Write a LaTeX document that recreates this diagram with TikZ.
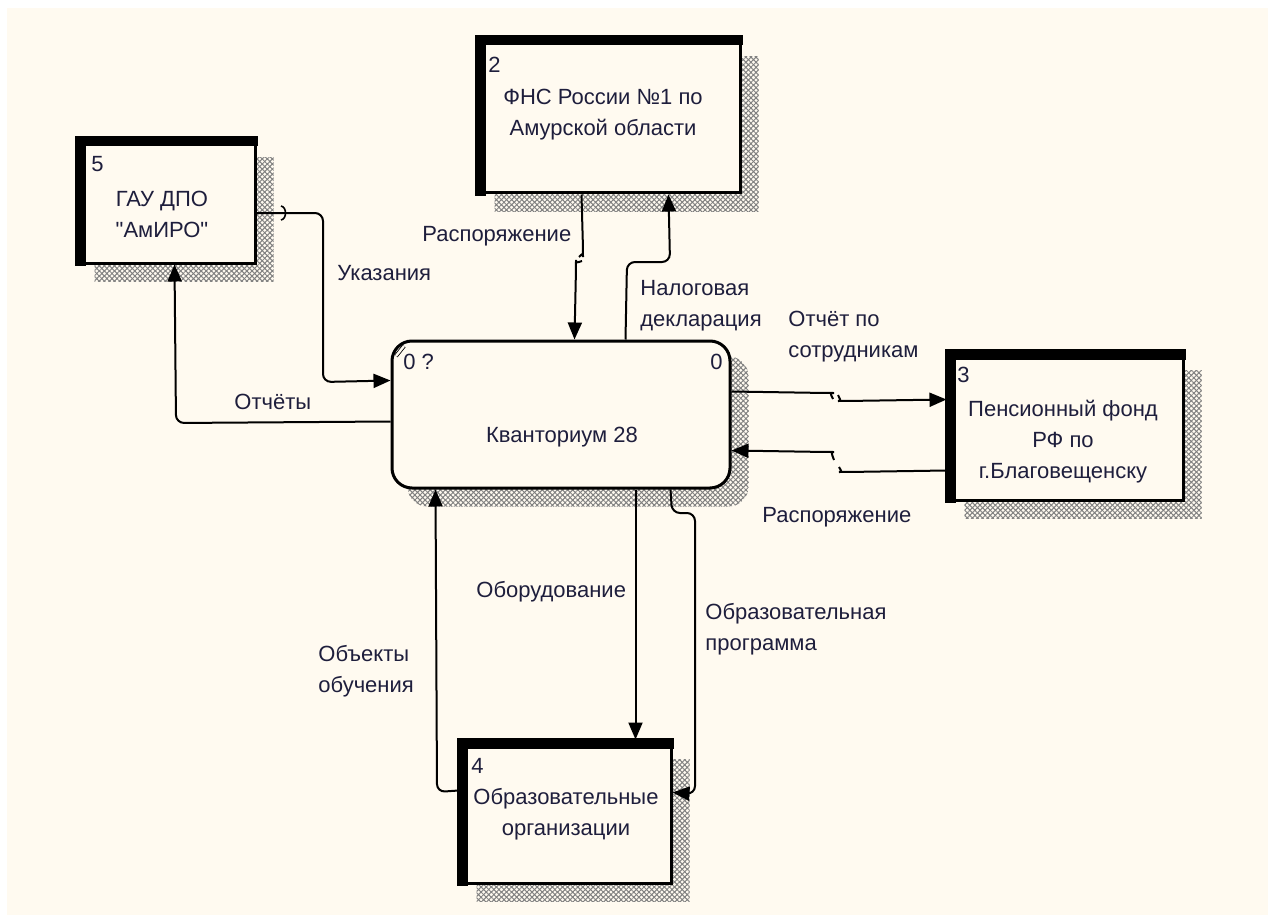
\documentclass[tikz,border=0pt]{standalone}
\usepackage{fontspec}
\setmainfont{Liberation Sans}
\newfontfamily\rawsans{Liberation Sans}
\usetikzlibrary{arrows.meta,calc,backgrounds,patterns.meta}
\definecolor{paper}{HTML}{FFFAF0}
\definecolor{ink}{HTML}{000000}
\definecolor{textink}{HTML}{1E1E3C}
\tikzset{
  entity/.style   = {draw=ink, line width=1.5pt, fill=paper, inner sep=0pt},
  kvant/.style    = {draw=ink, line width=1.5pt, fill=paper, rounded corners=10pt, inner sep=0pt},
  hatch/.style    = {preaction={fill, pattern={Lines[angle=45,distance=1.8pt,line width=0.5pt]}, pattern color=gray},
                     pattern={Lines[angle=-45,distance=1.8pt,line width=0.5pt]}, pattern color=gray},
  flow/.style     = {-{Triangle[length=8.5pt,width=7pt]}, draw=ink, line width=1pt, rounded corners=4pt},
  boxtext/.style  = {text=textink, align=center, anchor=base, inner sep=0pt,
                     font=\fontsize{11}{15.5}\selectfont},
  boxnum/.style   = {text=textink, anchor=base west, inner sep=0pt, font=\fontsize{11}{13}\selectfont},
  flowlabel/.style= {text=textink, align=left, anchor=base west, inner sep=0pt,
                     font=\fontsize{11}{15.5}\selectfont},
}
\begin{document}
\begin{tikzpicture}[x=0.5pt, y=-0.5pt]
  \useasboundingbox (0,0) rectangle (1275,915);

  % boxes
  \node[entity, minimum width=88.5pt, minimum height=62pt] (b5) at (166.5,201) {};
  \node[entity, minimum width=131pt, minimum height=77.5pt] (b2) at (609,115.5) {};
  \node[entity, minimum width=117.5pt, minimum height=74pt] (b3) at (1065.5,426) {};
  \node[entity, minimum width=105.5pt, minimum height=71pt] (b4) at (565.5,812) {};
  \node[kvant, minimum width=169pt, minimum height=73.5pt] (k28) at (561,414.5) {};
  \foreach \b in {b5,b2,b3,b4}{
    \fill[ink] ($(\b.north west)+(-1.5,-1.5)$) rectangle ($(\b.north east)+(1.5,9)$);
    \fill[ink] ($(\b.north west)+(-1.5,-1.5)$) rectangle ($(\b.south west)+(9,1.5)$);
  }
  \draw[double=paper, line width=0.4pt, double distance=1.2pt] (396,356) -- (404,346);

  % last line of each text sits on the given base
  \node[boxtext] (b5t) at (162,237) {ГАУ ДПО\\{\rawsans\char34}АмИРО{\rawsans\char34}};
  \node[boxtext] (b2t) at (603,135) {ФНС России №1 по\\Амурской области};
  \node[boxtext] (b3t) at (1063,478) {Пенсионный фонд\\РФ по\\г.Благовещенску};
  \node[boxtext] (b4t) at (566,835) {Образовательные\\организации};
  \node[boxtext] (k28t) at (562,442) {Кванториум 28};

  \node[boxnum] (b5n) at (91,171) {5};
  \node[boxnum] (b2n) at (488,73) {2};
  \node[boxnum] (b3n) at (957,382) {3};
  \node[boxnum] (b4n) at (471,773) {4};
  \node[boxnum] (k28n) at (403,369) {0 ?};
  \node[boxnum] (k28m) at (710,369) {0};

  % arrows
  \draw[flow] ($(b5.east)+(0,12)$) -- (323,213) -- (323,382) -- ($(k28.north west)+(0,41)$);
  \draw[ink, line width=0.8pt] (281,206) .. controls (287,207) and (287,219) .. (281,220);
  \draw[flow] ($(k28.north west)+(0,82)$) -- (176,423) -- ($(b5.south west)+(98,0)$);
  \draw[flow] ($(b2.south west)+(105,0)$) -- (583,249) .. controls (583,253) .. (579,257)
              (582,261) .. controls (576,263) .. (576,268) -- ($(k28.north west)+(184,0)$);
  \draw[flow] ($(k28.north west)+(235,0)$) -- (627,262) -- (670,262) -- ($(b2.south west)+(192,0)$);
  \draw[flow] ($(k28.north east)+(0,52)$) -- (826,393) .. controls (830,393) .. (833,399)
              (838,395) .. controls (841,401) .. (846,401) -- ($(b3.north west)+(0,49)$);
  \draw[flow] ($(b3.north west)+(0,120)$) -- (847,472) .. controls (842,472) .. (839,467)
              (834,460) .. controls (831,452) .. (826,452) -- ($(k28.north east)+(0,111)$);
  \draw[flow] ($(k28.south west)+(245,0)$) -- ($(b4.north west)+(177,0)$);
  \draw[flow] ($(k28.south west)+(280,0)$) -- (672,513) -- (695,513) -- (695,794) -- ($(b4.north east)+(0,53)$);
  \draw[flow] ($(b4.north west)+(0,51)$) -- (437,792) -- ($(k28.south west)+(45,0)$);

  \node[flowlabel] (l1) at (422,242) {Распоряжение};
  \node[flowlabel] (l2) at (337,280) {Указания};
  \node[flowlabel] (l3) at (234,409) {Отчёты};
  \node[flowlabel] (l4) at (640,326) {Налоговая\\декларация};
  \node[flowlabel] (l5) at (788,357) {Отчёт по\\сотрудникам};
  \node[flowlabel] (l6) at (762,522) {Распоряжение};
  \node[flowlabel] (l7) at (476,597) {Оборудование};
  \node[flowlabel] (l8) at (705,650) {Образовательная\\программа};
  \node[flowlabel] (l9) at (318,692) {Объекты\\обучения};

  \begin{scope}[on background layer]
    \fill[paper] (7,8) rectangle (1268,915);
    \foreach \b in {b5,b2,b3,b4}
      \fill[hatch] ($(\b.north west)+(18,20)$) rectangle ($(\b.south east)+(17,17)$);
    \fill[hatch, rounded corners=10pt] ($(k28.north west)+(17,17)$) rectangle ($(k28.south east)+(17,17)$);
  \end{scope}
\end{tikzpicture}
\end{document}
